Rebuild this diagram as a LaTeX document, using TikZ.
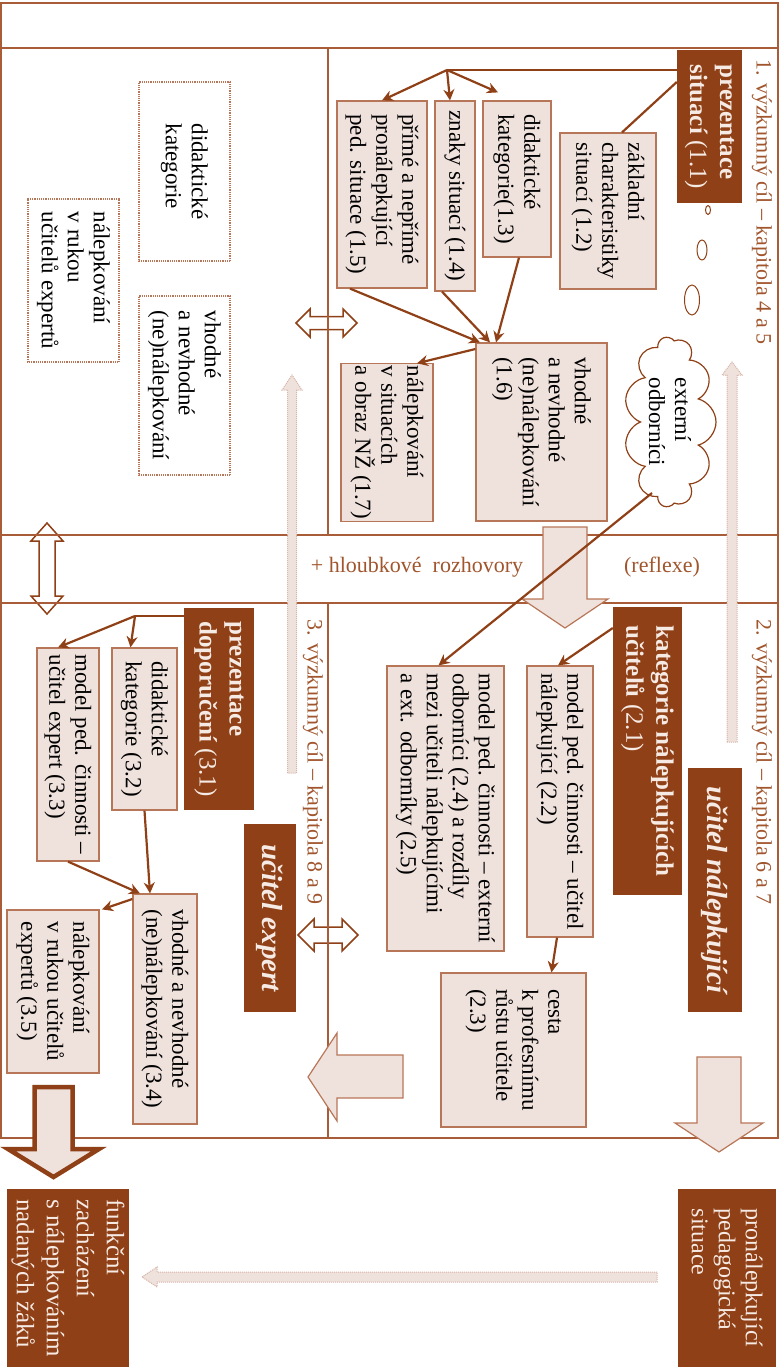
\documentclass[tikz,border=0pt]{standalone}
\usepackage{fontspec}
\setmainfont{Liberation Serif}
\usepackage{tikz}
\usetikzlibrary{shapes.symbols, arrows.meta, calc}

\definecolor{darkbrown}{RGB}{143,64,22}
\definecolor{framebrown}{RGB}{168,92,55}
\definecolor{boxline}{RGB}{184,118,88}
\definecolor{boxfill}{RGB}{239,225,220}
\definecolor{paletext}{RGB}{246,234,228}
\definecolor{pinkline}{RGB}{214,180,168}
\definecolor{goalbrown}{RGB}{160,85,45}

\newcommand{\fsz}[2]{\fontsize{#1pt}{#2pt}\selectfont}

\tikzstyle{lightbox} = [rectangle, draw=boxline, fill=boxfill, line width=1.2pt, rotate=-90, align=left, inner sep=2pt, font=\fsz{23}{26}]
\tikzstyle{darkbox} = [rectangle, fill=darkbrown, text=paletext, rotate=-90, align=left, inner sep=2pt, font=\fsz{25}{30}]
\tikzstyle{dotbox} = [rectangle, draw=boxline, densely dotted, line width=1.2pt, rotate=-90, align=left, inner sep=2pt, font=\fsz{23}{26}]
\tikzstyle{goal} = [rotate=-90, text=goalbrown, font=\fsz{22}{26}]
\tikzstyle{link} = [draw=darkbrown, line width=2.2pt]
\tikzstyle{arrow} = [link, ->, >={Stealth[length=11pt,width=11pt]}]
\tikzstyle{bigarrow} = [draw=boxline, fill=boxfill, line width=1.2pt]
\tikzstyle{twoway} = [draw=darkbrown, fill=white, line width=1.5pt]
\tikzstyle{pale} = [draw=pinkline, densely dotted, fill=boxfill, line width=1pt]

\begin{document}
\begin{tikzpicture}[x=1pt, y=-1pt]
  \useasboundingbox (0,0) rectangle (781,1367);

  \draw [twoway] (296,323) -- (310,309) -- (310,316.5) -- (343,316.5) -- (343,309) -- (357,323) -- (343,337) -- (343,329.5) -- (310,329.5) -- (310,337) -- cycle;
  \draw [twoway] (298,935) -- (314,919) -- (314,927) -- (342,927) -- (342,919) -- (358,935) -- (342,951) -- (342,943) -- (314,943) -- (314,951) -- cycle;
  \draw [twoway] (47,523) -- (63,541) -- (55,541) -- (55,596) -- (63,596) -- (47,614) -- (31,596) -- (39,596) -- (39,541) -- (31,541) -- cycle;

  \draw [framebrown, line width=1.2pt] (1,3) rectangle (778,48);
  \draw [framebrown, line width=1.2pt] (1,48) rectangle (778,1138);
  \draw [framebrown, line width=1.2pt] (1,535) -- (778,535);
  \draw [framebrown, line width=1.2pt] (1,603) -- (778,603);
  \draw [framebrown, line width=1.2pt] (328,48) -- (328,535);
  \draw [framebrown, line width=1.2pt] (328,603) -- (328,1138);

  \draw [pale] (287.5,773) -- (287.5,390) -- (282,390) -- (292,375) -- (302,390) -- (296.5,390) -- (296.5,773) -- cycle;
  \draw [pale] (727,742) -- (727,375) -- (722,375) -- (732,362) -- (742,375) -- (737,375) -- (737,742) -- cycle;
  \draw [pale] (657,1272) -- (157,1272) -- (157,1267) -- (142,1277) -- (157,1287) -- (157,1282) -- (657,1282) -- cycle;

  \draw [bigarrow] (543,527) -- (587,527) -- (587,599) -- (608,599) -- (565,628) -- (522,599) -- (543,599) -- cycle;
  \draw [bigarrow] (697,1057) -- (741,1057) -- (741,1123) -- (763,1123) -- (719,1152) -- (675,1123) -- (697,1123) -- cycle;
  \draw [bigarrow] (403,1055) -- (337,1055) -- (337,1033) -- (308,1077) -- (337,1121) -- (337,1098) -- (403,1098) -- cycle;
  \draw [bigarrow, draw=darkbrown, line width=4.5pt, miter limit=20] (34.5,1087) -- (72.5,1087) -- (72.5,1149) -- (99,1149) -- (53.5,1177) -- (8,1149) -- (34.5,1149) -- cycle;

  \node (band1) [text=goalbrown, font=\fsz{22}{26}] at (417,567) {+ hloubkové\ \ rozhovory};
  \node (band2) [text=goalbrown, font=\fsz{22}{26}] at (662,567) {(reflexe)};

  \node (goal1) [goal] at (762,202) {1. výzkumný cíl – kapitola 4 a 5};
  \node (goal2) [goal] at (762,762) {2. výzkumný cíl – kapitola 6 a 7};
  \node (goal3) [goal] at (313,762) {3. výzkumný cíl – kapitola 8 a 9};

  \node (d1) [dotbox, minimum width=179pt, minimum height=91pt] at (184.5,171.5) {didaktické\\kategorie};
  \node (d2) [dotbox, minimum width=179pt, minimum height=91pt] at (184.5,385.5) {vhodné\\a nevhodné\\(ne)nálepkování};
  \node (d3) [dotbox, minimum width=163pt, minimum height=91pt] at (73.5,280.5) {nálepkování\\v rukou\\učitelů expertů};

  \node (p11) [darkbox, minimum width=153pt, minimum height=65pt] at (709.5,126.5) {\textbf{prezentace}\\\textbf{situací} (1.1)};
  \node (b12) [lightbox, minimum width=156pt, minimum height=96pt] at (608,211) {základní\\charakteristiky\\situací (1.2)};
  \node (b13) [lightbox, minimum width=156pt, minimum height=68pt] at (517,179) {didaktické\\kategorie(1.3)};
  \node (b14) [lightbox, minimum width=190pt, minimum height=40pt] at (455,196) {znaky situací (1.4)};
  \node (b15) [lightbox, minimum width=187pt, minimum height=90pt] at (382,194.5) {přímé a nepřímé\\pronálepkující\\ped. situace (1.5)};
  \node (b16) [lightbox, minimum width=178pt, minimum height=131pt] at (541.5,432) {vhodné\\a nevhodné\\(ne)nálepkování\\(1.6)};
  \node (b17) [lightbox, minimum width=157pt, minimum height=92pt] at (387,442.5) {nálepkování\\v situacích\\a obraz NŽ (1.7)};

  \node (cloud) [cloud, cloud puffs=11, cloud ignores aspect, draw=darkbrown, fill=white, line width=1.2pt, rotate=-90, inner sep=0pt, minimum width=170pt, minimum height=92pt, align=left, font=\fsz{23}{26}] at (670,422) {externí\\odborníci};
  \draw [darkbrown, line width=1pt] (708,210) ellipse [x radius=2.5pt, y radius=4.5pt];
  \draw [darkbrown, line width=1pt] (702,250) ellipse [x radius=5pt, y radius=10pt];
  \draw [darkbrown, line width=1pt] (692,300) ellipse [x radius=7.5pt, y radius=15pt];

  \node (p21) [darkbox, minimum width=288pt, minimum height=69pt] at (647.5,751) {\textbf{kategorie nálepkujících}\\\textbf{učitelů} (2.1)};
  \node (pnu) [darkbox, minimum width=244pt, minimum height=54pt, font=\fsz{29}{32}\bfseries\itshape] at (715,890) {učitel nálepkující};
  \node (b22) [lightbox, minimum width=271pt, minimum height=66pt] at (560,801.5) {model ped. činnosti – učitel\\nálepkující (2.2)};
  \node (b25) [lightbox, minimum width=285pt, minimum height=117pt] at (445.5,808.5) {model ped. činnosti – externí\\odborníci (2.4) a rozdíly\\mezi učiteli nálepkujícími\\a ext. odborníky (2.5)};
  \node (b23) [lightbox, minimum width=154pt, minimum height=145pt] at (513.5,1050) {cesta\\k profesnímu\\růstu učitele\\(2.3)};

  \node (p31) [darkbox, minimum width=202pt, minimum height=70pt] at (219,709) {\textbf{prezentace}\\\textbf{doporučení} (3.1)};
  \node (pue) [darkbox, minimum width=188pt, minimum height=52pt, font=\fsz{29}{32}\bfseries\itshape] at (270,918) {učitel expert};
  \node (b32) [lightbox, minimum width=162pt, minimum height=65pt] at (144.5,729) {didaktické\\kategorie (3.2)};
  \node (b33) [lightbox, minimum width=213pt, minimum height=62pt] at (68,754.5) {model ped. činnosti –\\učitel expert (3.3)};
  \node (b34) [lightbox, minimum width=230pt, minimum height=64pt] at (165,1009) {vhodné a nevhodné\\(ne)nálepkování (3.4)};
  \node (b35) [lightbox, minimum width=163pt, minimum height=92pt] at (53,991.5) {nálepkování\\v rukou učitelů\\expertů (3.5)};

  \node (psit) [darkbox, minimum width=178pt, minimum height=98pt, font=\fsz{24}{27}] at (727,1278) {pronálepkující\\pedagogická\\situace};
  \node (pfun) [darkbox, minimum width=178pt, minimum height=122pt] at (68,1278) {funkční\\zacházení\\s nálepkováním\\nadaných žáků};

  \coordinate (fork1) at (447,70);
  \coordinate (fork3) at (135,616);

  \draw [link] (p11.south |- fork1) -- (fork1);
  \draw [arrow] (fork1) -- (b15.west);
  \draw [arrow] (fork1) -- ($(b14.west)+(-5,0)$);
  \draw [arrow] (fork1) -- ($(b13.west)+(-19,-8)$);
  \draw [link] ($(p11.south)+(0,-44.5)$) -- ($(b12.west)+(14,0)$);
  \draw [arrow] ($(b15.east)+(-32,0)$) -- ($(b16.west)+(-61.5,0)$);
  \draw [arrow] ($(b14.east)+(-13,0)$) -- ($(b16.west)+(-51.5,0)$);
  \draw [arrow] ($(b13.east)+(2,0)$) -- ($(b16.west)+(-45.5,0)$);
  \draw [arrow] ($(b16.south)+(0,-83)$) -- ($(b17.west)+(30,0)$);

  \draw [arrow] ($(p21.south)+(0,-123)$) -- ($(b22.west)+(-2,0)$);
  \draw [arrow] ($(cloud.center)+(-18,71)$) -- ($(b25.west)+(-7,0)$);
  \draw [arrow] ($(b22.east)+(-3,0)$) -- ($(b23.west)+(38,0)$);

  \draw [link] (p31.south |- fork3) -- (fork3);
  \draw [arrow] (fork3) -- ($(b32.west)+(-14,0)$);
  \draw [arrow] (fork3) -- ($(b33.west)+(-10,0)$);
  \draw [arrow] (b32.east) -- ($(b34.west)+(-15,0)$);
  \draw [arrow] (b33.east) -- ($(b34.west)+(-25,0)$);
  \draw [arrow] ($(b34.south)+(0,-110)$) -- ($(b35.west)+(49,0)$);
\end{tikzpicture}
\end{document}
